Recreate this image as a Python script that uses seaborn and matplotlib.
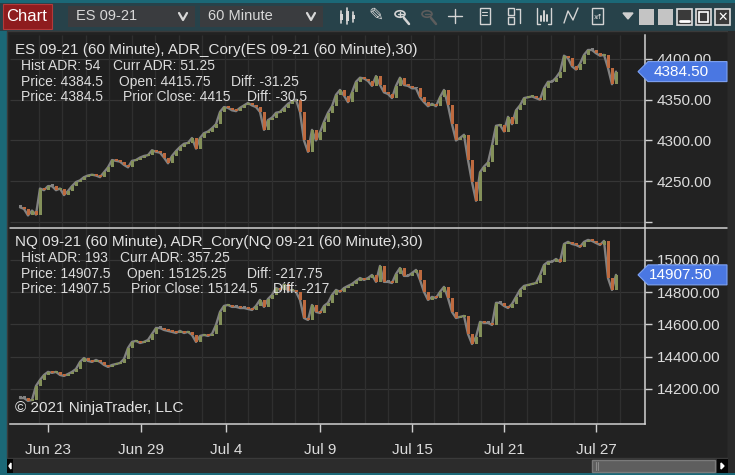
import matplotlib
matplotlib.use("Agg")
import matplotlib.pyplot as plt
from matplotlib.patches import Rectangle, Polygon, Circle
from matplotlib.lines import Line2D
import seaborn as sns
import numpy as np
import pandas as pd

W, H = 735, 475

# hourly-ish closes (one value every ~4 px)
es_close = [
    4218, 4216, 4208, 4214, 4209, 4241, 4239, 4244, 4244, 4239,
    4241, 4233, 4238, 4244, 4249, 4251, 4255, 4257, 4258, 4257,
    4255, 4261, 4267, 4276, 4275, 4274, 4270, 4267, 4275, 4276,
    4279, 4281, 4282, 4288, 4286, 4285, 4279, 4272, 4281, 4287,
    4292, 4296, 4297, 4303, 4290, 4303, 4309, 4311, 4315, 4320,
    4335, 4341, 4340, 4337, 4336, 4340, 4343, 4346, 4343, 4341,
    4335, 4313, 4325, 4328, 4334, 4335, 4340, 4345, 4348, 4350,
    4335, 4300, 4286, 4313, 4300, 4310, 4323, 4334, 4342, 4356,
    4362, 4355, 4347, 4359, 4372, 4377, 4376, 4373, 4367, 4379,
    4368, 4359, 4357, 4352, 4367, 4377, 4368, 4367, 4364, 4364,
    4353, 4347, 4342, 4345, 4342, 4353, 4362, 4343, 4320, 4300,
    4303, 4307, 4276, 4249, 4226, 4261, 4268, 4273, 4294, 4318,
    4319, 4311, 4329, 4320, 4337, 4343, 4352, 4353, 4354, 4352,
    4350, 4364, 4372, 4372, 4377, 4384, 4404, 4401, 4391, 4387,
    4394, 4405, 4411, 4411, 4407, 4404, 4405, 4389, 4369, 4384.5,
]
nq_close = [
    14144, 14144, 14126, 14132, 14219, 14256, 14287, 14306, 14300, 14306,
    14287, 14281, 14293, 14306, 14324, 14368, 14392, 14374, 14368, 14380,
    14368, 14349, 14337, 14349, 14355, 14361, 14386, 14454, 14492, 14498,
    14485, 14492, 14504, 14541, 14578, 14578, 14566, 14560, 14554, 14547,
    14560, 14547, 14554, 14535, 14492, 14529, 14535, 14529, 14541, 14597,
    14678, 14715, 14721, 14709, 14709, 14702, 14702, 14696, 14690, 14715,
    14752, 14709, 14758, 14783, 14826, 14814, 14851, 14808, 14814, 14802,
    14752, 14640, 14628, 14721, 14678, 14671, 14715, 14734, 14783, 14814,
    14802, 14826, 14839, 14851, 14870, 14888, 14876, 14888, 14907, 14864,
    14963, 14864, 14864, 14857, 14913, 14950, 14901, 14901, 14919, 14938,
    14876, 14802, 14752, 14771, 14764, 14802, 14833, 14764, 14678, 14640,
    14647, 14653, 14541, 14479, 14523, 14616, 14610, 14610, 14597, 14734,
    14734, 14715, 14702, 14727, 14771, 14814, 14839, 14845, 14851, 14857,
    14907, 14969, 14988, 14988, 15006, 14988, 15099, 15112, 15099, 15093,
    15081, 15112, 15124, 15118, 15105, 15093, 15118, 14888, 14814, 14907.5,
]

es_ticks = [4200, 4250, 4300, 4350, 4400]
es_tick_labels = ["", "4250.00", "4300.00", "4350.00", "4400.00"]
nq_ticks = [14200, 14400, 14600, 14800, 15000]
nq_tick_labels = ["14200.00", "14400.00", "14600.00", "14800.00", "15000.00"]

date_labels = ["Jun 23", "Jun 29", "Jul 4", "Jul 9", "Jul 15", "Jul 21", "Jul 27"]
date_pos = [7, 30.25, 51.5, 75, 98, 121, 144]

es_title = "ES 09-21 (60 Minute), ADR_Cory(ES 09-21 (60 Minute),30)"
es_info = [
    [("Hist ADR: 54", 21), ("Curr ADR: 51.25", 113)],
    [("Price: 4384.5", 21), ("Open: 4415.75", 119), ("Diff: -31.25", 231)],
    [("Price: 4384.5", 21), ("Prior Close: 4415", 123), ("Diff: -30.5", 247)],
]
nq_title = "NQ 09-21 (60 Minute), ADR_Cory(NQ 09-21 (60 Minute),30)"
nq_info = [
    [("Hist ADR: 193", 21), ("Curr ADR: 357.25", 120)],
    [("Price: 14907.5", 21), ("Open: 15125.25", 127), ("Diff: -217.75", 247)],
    [("Price: 14907.5", 21), ("Prior Close: 15124.5", 131), ("Diff: -217", 273)],
]

UP = "#84915a"
DOWN = "#bd6a3f"
WICK = "#828282"
TXT = "#dcdcdc"

sns.set_theme(style="dark", rc={
    "axes.facecolor": "#1f1f1f",
    "figure.facecolor": "#1b6877",
    "axes.edgecolor": "#d0d0d0",
})
plt.rcParams["font.family"] = ["Liberation Sans", "DejaVu Sans"]

fig = plt.figure(figsize=(W / 100, H / 100), dpi=100)


def box(x0, y0, x1, y1, fc, ec="none", lw=0, z=1):
    fig.add_artist(Rectangle((x0 / W, 1 - y1 / H), (x1 - x0) / W, (y1 - y0) / H,
                             transform=fig.transFigure, facecolor=fc,
                             edgecolor=ec, linewidth=lw, zorder=z))


def line(xs, ys, color, lw=1.0, z=3):
    fig.add_artist(Line2D([x / W for x in xs], [1 - y / H for y in ys],
                          transform=fig.transFigure, color=color, lw=lw, zorder=z))


def label(x, y, s, size=10, color=TXT, ha="left", z=4, **kw):
    fig.text(x / W, 1 - y / H, s, fontsize=size, color=color, ha=ha,
             va="center", zorder=z, **kw)


# window frame, toolbar, chart container
box(0, 3, 735, 31, "#27424a", z=-2)
box(7, 31, 728, 458, "#222222", ec="#3a3a3a", lw=1, z=-1)
box(728, 31, 735, 473, "#2a2a2a", z=-1)

# toolbar
box(3, 4, 52, 29, "#8e1c1e", ec="#b23a3a", lw=0.8)
label(27, 16.5, "Chart", size=12, color="white", ha="center")
for x0, x1, txt in [(68, 195, "ES 09-21"), (200, 323, "60 Minute")]:
    box(x0, 6, x1, 27, "#3a3c3f")
    label(x0 + 8, 16.5, txt, size=10.5, color="#d8d8d8")
    line([x1 - 16, x1 - 12, x1 - 8], [13, 20, 13], "#d8d8d8", lw=1.6)

ic = "#d4d4d4"
# bars icon
for xx, top, bot in [(341, 11, 23), (347, 8, 24), (353, 12, 22)]:
    line([xx, xx], [top, bot], ic, lw=1.2)
    box(xx - 1.5, top + 3, xx + 1.5, bot - 3, ic, z=3)
label(376, 16, "\u270e", size=13, color=ic, ha="center", family=["DejaVu Sans"])
for cx, col, sign in [(400, ic, "+"), (427, "#5c5c5c", "-")]:
    fig.add_artist(Circle((cx / W, 1 - 14 / H), 5 / W, transform=fig.transFigure,
                          fill=False, edgecolor=col, lw=1.2, zorder=3))
    line([cx + 4, cx + 9], [18, 24], col, lw=1.8)
    line([cx - 2.5, cx + 2.5], [14, 14], col, lw=1)
    if sign == "+":
        line([cx, cx], [11.5, 16.5], col, lw=1)
line([448, 462], [16, 16], ic, lw=1)
line([455, 455], [9, 23], ic, lw=1)
box(480, 8, 490, 24, "none", ec=ic, lw=1, z=3)
line([482, 487], [12, 12], ic, lw=0.8)
line([482, 487], [15, 15], ic, lw=0.8)
box(508, 8, 514, 15, "none", ec=ic, lw=1, z=3)
box(508, 17, 514, 24, "none", ec=ic, lw=1, z=3)
line([516, 520], [9, 9], ic)
line([520, 520], [9, 23], ic)
line([537, 537, 540], [8, 24, 24], ic)
line([551, 551, 548], [8, 24, 24], ic)
for xx, t in [(541, 16), (544, 11), (547, 15)]:
    line([xx, xx], [t, 21], ic, lw=1.4)
line([564, 568, 573, 578], [23, 11, 20, 8], ic, lw=1)
box(592, 8, 603, 24, "none", ec=ic, lw=1, z=3)
label(597.5, 17, "x\u2044f", size=5, color=ic, ha="center", family=["DejaVu Sans"])
fig.add_artist(Polygon([(623 / W, 1 - 13 / H), (633 / W, 1 - 13 / H), (628 / W, 1 - 19 / H)],
                       transform=fig.transFigure, color="#cfcfcf", zorder=3))
box(639, 9, 654, 25, "#c4c4c4")
box(658, 9, 673, 25, "#c4c4c4")
for x0 in (677, 696, 715):
    box(x0, 9, x0 + 15, 25, "#3a3a3a", ec="#dedede", lw=1.2)
line([680, 689], [21, 21], "white", lw=2)
box(699, 12, 708, 22, "none", ec="white", lw=1.2, z=3)
label(722.5, 17, "\u2715", size=9, color="white", ha="center", family=["DejaVu Sans"],
      fontweight="bold")

# scrollbar
box(7, 459, 728, 473, "#2c2c2c")
box(7, 459, 13, 473, "#050505", z=2)
box(717, 459, 728, 473, "#050505", z=2)
fig.add_artist(Polygon([(11 / W, 1 - 463 / H), (11 / W, 1 - 469 / H), (9 / W, 1 - 466 / H)],
                       transform=fig.transFigure, color="white", zorder=3))
fig.add_artist(Polygon([(721 / W, 1 - 463 / H), (721 / W, 1 - 469 / H), (724 / W, 1 - 466 / H)],
                       transform=fig.transFigure, color="white", zorder=3))
box(592, 460, 715, 472, "#5e5e5e", ec="#7a7a7a", lw=1, z=2)
line([596, 596], [462, 470], "#8a8a8a", lw=0.8)
line([598, 598], [462, 470], "#8a8a8a", lw=0.8)

X0, X1 = 10, 645
xlim = (-2.5, 156.25)
grid_x = np.arange(4.75, 157, 5.8125)

ax1 = fig.add_axes([X0 / W, 1 - 228 / H, (X1 - X0) / W, (228 - 35) / H])
ax2 = fig.add_axes([X0 / W, 1 - 424 / H, (X1 - X0) / W, (424 - 228) / H])


def price_panel(ax, closes, ticks, tick_labels, ylim):
    closes = np.asarray(closes, dtype=float)
    n = len(closes)
    df = pd.DataFrame({"bar": np.arange(n), "close": closes})
    opens = np.r_[closes[0], closes[:-1]]
    min_h = (ylim[1] - ylim[0]) / 193 * 1.8
    colors = [UP if c > o else DOWN if c < o else WICK for o, c in zip(opens, closes)]
    bottoms = np.minimum(opens, closes)
    heights = np.maximum(np.abs(closes - opens), min_h)

    ax.hlines(ticks, *xlim, color="#363636", lw=0.9, zorder=0.5)
    ax.vlines(grid_x, *ylim, color="#2f2f2f", lw=0.9, zorder=0.5)
    sns.lineplot(data=df, x="bar", y="close", ax=ax, color=WICK, lw=1.7, zorder=2)
    ax.bar(df["bar"], heights, bottom=bottoms, width=0.75, color=colors,
           linewidth=0, zorder=3)

    ax.set_xlim(*xlim)
    ax.set_ylim(*ylim)
    ax.yaxis.tick_right()
    ax.set_yticks(ticks, tick_labels)
    ax.tick_params(axis="y", colors=TXT, labelsize=11, length=5, width=1,
                   pad=3.5, direction="out", right=True, left=False)
    ax.tick_params(axis="y", color="#d0d0d0")
    ax.set_xlabel("")
    ax.set_ylabel("")
    for s in ("left", "top", "bottom"):
        ax.spines[s].set_visible(False)
    ax.spines["right"].set_color("#d0d0d0")
    ax.spines["right"].set_linewidth(1.1)
    ax.grid(False)

    # last price tag on the axis (covers part of the top label, as in NinjaTrader)
    last = closes[-1]
    yc = H - ax.transData.transform((0, last))[1]
    pts = [(638, yc), (648, yc - 10), (727, yc - 10), (727, yc + 10), (648, yc + 10)]
    fig.add_artist(Polygon([(x / W, 1 - y / H) for x, y in pts], closed=True,
                           transform=fig.transFigure, facecolor="#4a77e2",
                           edgecolor="#7ea2f2", lw=0.8, zorder=5))
    label(681, yc, f"{last:.2f}", size=11, color="white", ha="center", z=6)


price_panel(ax1, es_close, es_ticks, es_tick_labels, (4192.6, 4429.4))
price_panel(ax2, nq_close, nq_ticks, nq_tick_labels, (13983, 15198))

ax1.set_xticks([])
ax2.set_xticks(date_pos, date_labels)
ax2.tick_params(axis="x", colors=TXT, labelsize=11, length=6, width=1, pad=8,
                bottom=True, direction="out")
ax2.tick_params(axis="x", color="#d0d0d0")
ax2.spines["bottom"].set_visible(True)
ax2.spines["bottom"].set_color("#d0d0d0")
ax2.spines["bottom"].set_linewidth(1.1)

# panel separator across the price scale
line([X0, 727], [228, 228], "#d0d0d0", lw=1.1, z=4)

# panel texts
for title, info, y0 in [(es_title, es_info, 50), (nq_title, nq_info, 242)]:
    label(15, y0, title, size=11, color="#e2e2e2")
    for k, row in enumerate(info):
        for txt, xx in row:
            label(xx, y0 + 16 + 15.7 * k, txt, size=10)
label(15, 408, "\u00a9 2021 NinjaTrader, LLC", size=11, color="#e2e2e2")

fig.savefig("out.png", dpi=100)
